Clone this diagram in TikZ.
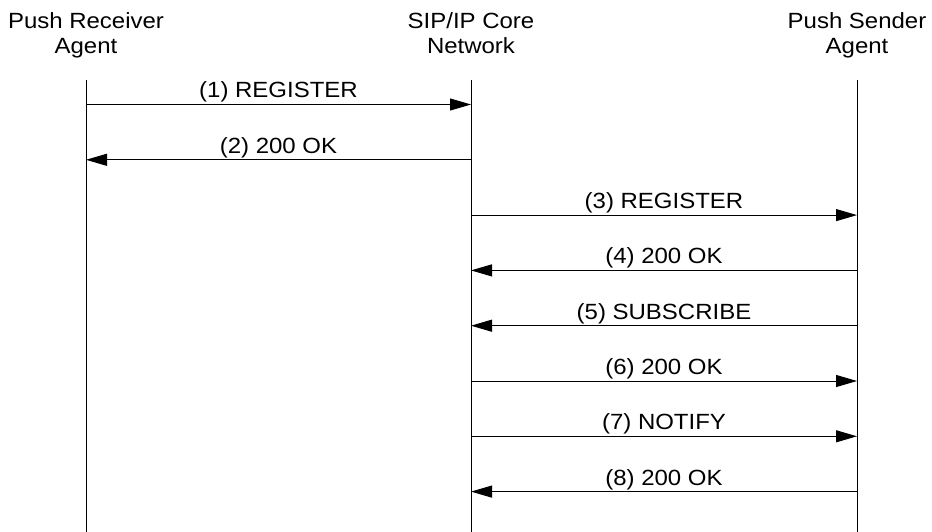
\documentclass[tikz,border=0pt]{standalone}
\usepackage{fontspec}
\setmainfont{Liberation Sans}
\usetikzlibrary{arrows.meta}
\newcommand\wx[1]{\scalebox{1.09}[1]{#1}}
\tikzset{
  head/.style={anchor=north, inner sep=0pt, align=center, font=\fontsize{22}{25}\selectfont},
  lbl/.style={anchor=base, inner sep=0pt, font=\fontsize{22}{25}\selectfont},
  life/.style={line width=1pt, black},
  msg/.style={line width=1pt, black, -{Triangle[length=21pt,width=12pt]}}
}
\begin{document}
\begin{tikzpicture}[x=1pt,y=-1pt]
\useasboundingbox[fill=white] (0,0) rectangle (932,532);
% headers
\node[head] (ra) at (86,12.5) {\wx{Push Receiver}\\\wx{Agent}};
\node[head] (cn) at (471,12.5) {\wx{SIP/IP Core}\\\wx{Network}};
\node[head] (sa) at (857,12.5) {\wx{Push Sender}\\\wx{Agent}};
% lifelines
\coordinate (aT) at (86,80);  \coordinate (aB) at (86,532);
\coordinate (bT) at (471,80); \coordinate (bB) at (471,532);
\coordinate (cT) at (857,80); \coordinate (cB) at (857,532);
\draw[life] (aT) -- (aB);
\draw[life] (bT) -- (bB);
\draw[life] (cT) -- (cB);
% message rows
\foreach \i/\y in {1/104.5,2/159.8,3/215.1,4/270.4,5/325.7,6/381,7/436.3,8/491.6}
  \coordinate (m\i) at (0,\y);
\draw[msg] (aT |- m1) -- (bT |- m1) node[lbl, pos=0.5, yshift=6.5pt] (l1) {\wx{(1) REGISTER}};
\draw[msg] (bT |- m2) -- (aT |- m2) node[lbl, pos=0.5, yshift=6.5pt] (l2) {\wx{(2) 200 OK}};
\draw[msg] (bT |- m3) -- (cT |- m3) node[lbl, pos=0.5, yshift=6.5pt] (l3) {\wx{(3) REGISTER}};
\draw[msg] (cT |- m4) -- (bT |- m4) node[lbl, pos=0.5, yshift=6.5pt] (l4) {\wx{(4) 200 OK}};
\draw[msg] (cT |- m5) -- (bT |- m5) node[lbl, pos=0.5, yshift=6.5pt] (l5) {\wx{(5) SUBSCRIBE}};
\draw[msg] (bT |- m6) -- (cT |- m6) node[lbl, pos=0.5, yshift=6.5pt] (l6) {\wx{(6) 200 OK}};
\draw[msg] (bT |- m7) -- (cT |- m7) node[lbl, pos=0.5, yshift=6.5pt] (l7) {\wx{(7) NOTIFY}};
\draw[msg] (cT |- m8) -- (bT |- m8) node[lbl, pos=0.5, yshift=6.5pt] (l8) {\wx{(8) 200 OK}};
\end{tikzpicture}
\end{document}
